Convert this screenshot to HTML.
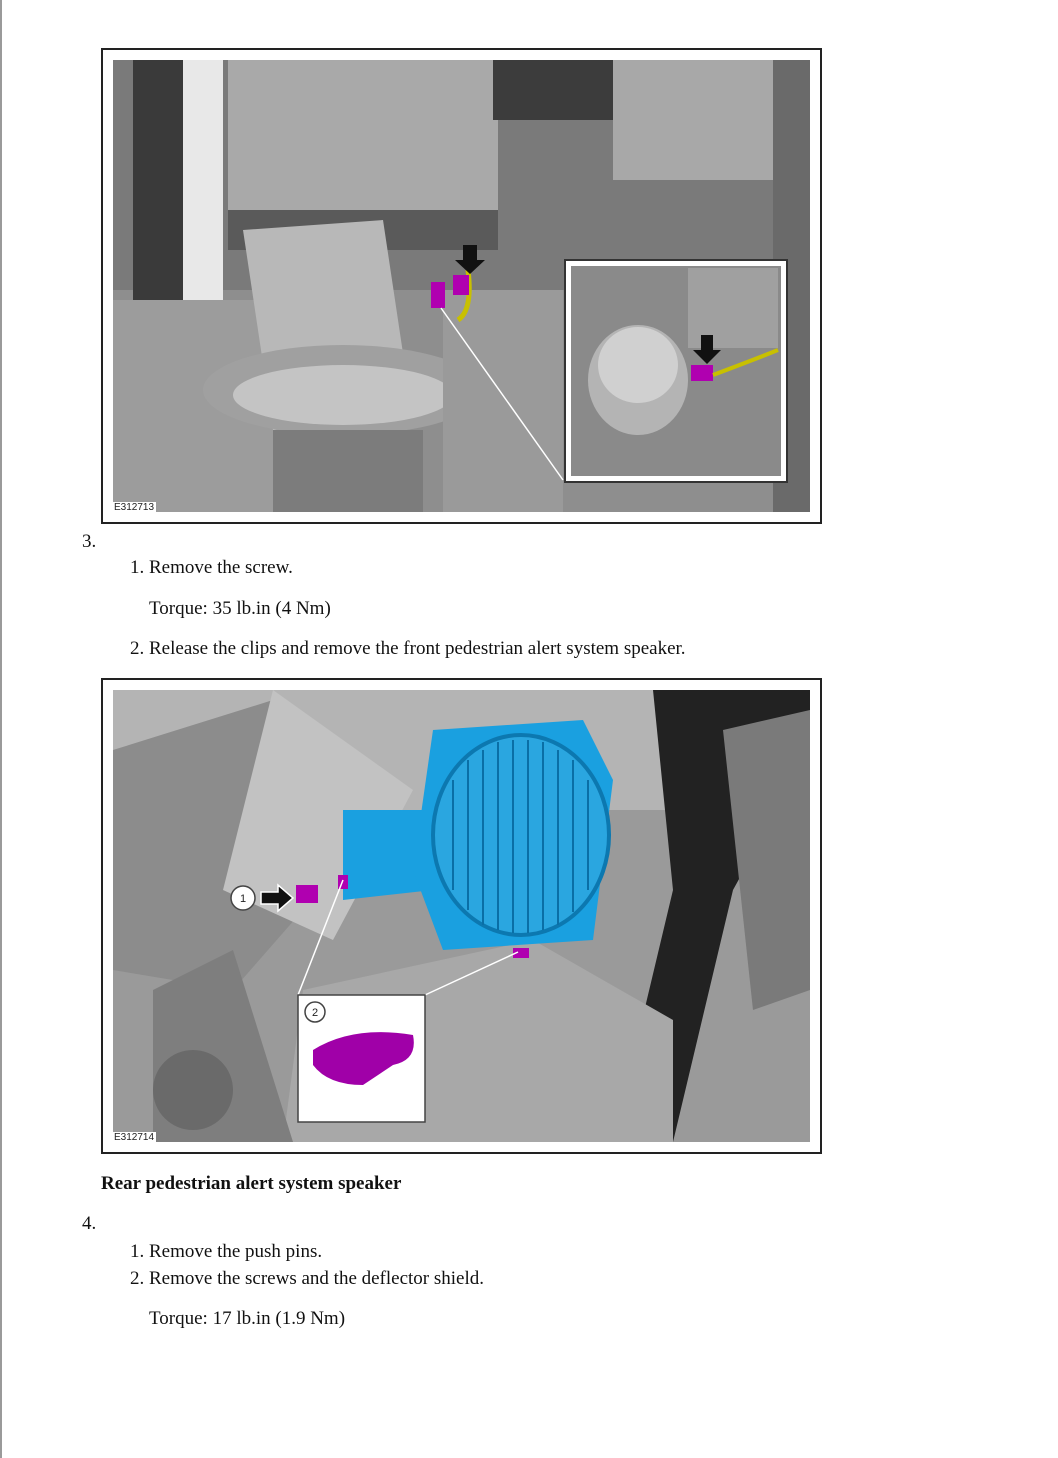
<!DOCTYPE html>
<html><head><meta charset="utf-8"><style>
html,body{margin:0;padding:0;background:#fff;}
body{width:1058px;height:1458px;position:relative;overflow:hidden;font-family:"Liberation Serif",serif;font-size:19px;color:#111;}
.edge{position:absolute;left:0;top:0;width:2px;height:1458px;background:#9a9a9a;}
.t{position:absolute;white-space:nowrap;line-height:20px;}
.fig{position:absolute;left:101px;width:717px;border:2px solid #222;background:#fff;}
.fig svg{position:absolute;left:10px;top:10px;}
.lbl{position:absolute;font-family:"Liberation Sans",sans-serif;font-size:10px;color:#222;background:#fff;padding:0 2px;}
</style></head><body>
<div class="edge"></div>

<div class="fig" style="top:48px;height:472px;">
<svg width="697" height="452" viewBox="0 0 697 452">
<rect width="697" height="452" fill="#8e8e8e"/>
<rect x="0" y="0" width="697" height="230" fill="#7a7a7a"/>
<rect x="20" y="0" width="90" height="240" fill="#3a3a3a"/>
<rect x="70" y="0" width="40" height="240" fill="#e8e8e8"/>
<rect x="115" y="0" width="270" height="150" fill="#a9a9a9"/>
<rect x="115" y="150" width="270" height="40" fill="#5a5a5a"/>
<rect x="0" y="240" width="160" height="212" fill="#9c9c9c"/>
<rect x="380" y="0" width="120" height="60" fill="#3c3c3c"/>
<rect x="500" y="0" width="197" height="120" fill="#a8a8a8"/>
<rect x="660" y="0" width="37" height="452" fill="#6a6a6a"/>
<path d="M130 170 L270 160 L300 360 L160 370 Z" fill="#b8b8b8"/>
<ellipse cx="230" cy="330" rx="140" ry="45" fill="#a0a0a0"/>
<ellipse cx="230" cy="335" rx="110" ry="30" fill="#c4c4c4"/>
<rect x="160" y="370" width="150" height="82" fill="#7c7c7c"/>
<rect x="330" y="230" width="120" height="222" fill="#9a9a9a"/>
<path d="M355 210 Q360 250 345 260" stroke="#c8c000" stroke-width="5" fill="none"/>
<rect x="318" y="222" width="14" height="26" fill="#b000b0"/>
<rect x="340" y="215" width="16" height="20" fill="#b000b0"/>
<polygon points="350,185 364,185 364,200 372,200 357,214 342,200 350,200" fill="#111"/>
<line x1="328" y1="248" x2="450" y2="420" stroke="#fff" stroke-width="1.5"/>
<rect x="452" y="200" width="222" height="222" fill="#fff" stroke="#333" stroke-width="2"/>
<rect x="458" y="206" width="210" height="210" fill="#8a8a8a"/>
<ellipse cx="525" cy="320" rx="50" ry="55" fill="#b4b4b4"/>
<ellipse cx="525" cy="305" rx="40" ry="38" fill="#d0d0d0"/>
<rect x="575" y="208" width="90" height="80" fill="#a0a0a0"/>
<rect x="578" y="305" width="22" height="16" fill="#b000b0"/>
<path d="M600 315 Q640 300 665 290" stroke="#c8c000" stroke-width="4" fill="none"/>
<polygon points="588,275 600,275 600,290 608,290 594,304 580,290 588,290" fill="#111"/>
</svg>
<div class="lbl" style="left:9px;top:452px;">E312713</div>
</div>

<div class="t" style="left:82px;top:532px;">3.</div>
<div class="t" style="left:130px;top:558px;">1. Remove the screw.</div>
<div class="t" style="left:149px;top:599px;">Torque: 35 lb.in (4 Nm)</div>
<div class="t" style="left:130px;top:639px;">2. Release the clips and remove the front pedestrian alert system speaker.</div>

<div class="fig" style="top:678px;height:472px;">
<svg width="697" height="452" viewBox="0 0 697 452">
<rect width="697" height="452" fill="#9a9a9a"/>
<rect x="0" y="0" width="697" height="120" fill="#b4b4b4"/>
<path d="M0 60 L160 10 L260 140 L120 300 L0 280 Z" fill="#8c8c8c"/>
<path d="M160 0 L300 100 L220 250 L110 200 Z" fill="#c2c2c2"/>
<path d="M540 0 L697 0 L697 60 L620 200 L560 452 L500 452 L560 200 Z" fill="#222"/>
<path d="M610 40 L697 20 L697 300 L640 320 Z" fill="#7a7a7a"/>
<path d="M190 300 L420 250 L560 330 L560 452 L170 452 Z" fill="#a8a8a8"/>
<path d="M40 300 L120 260 L180 452 L40 452 Z" fill="#7e7e7e"/>
<circle cx="80" cy="400" r="40" fill="#6a6a6a"/>
<path d="M230 120 L320 120 L320 200 L230 210 Z" fill="#1aa0e0"/>
<path d="M320 40 L470 30 L500 90 L480 250 L330 260 L300 180 Z" fill="#1aa0e0"/>
<ellipse cx="408" cy="145" rx="88" ry="100" fill="#2aa6e0" stroke="#0c78b0" stroke-width="4"/>
<g stroke="#0a6fa6" stroke-width="2">
<line x1="340" y1="90" x2="340" y2="200"/><line x1="355" y1="70" x2="355" y2="220"/><line x1="370" y1="60" x2="370" y2="235"/><line x1="385" y1="52" x2="385" y2="240"/><line x1="400" y1="50" x2="400" y2="243"/><line x1="415" y1="50" x2="415" y2="243"/><line x1="430" y1="52" x2="430" y2="240"/><line x1="445" y1="60" x2="445" y2="235"/><line x1="460" y1="70" x2="460" y2="222"/><line x1="475" y1="90" x2="475" y2="200"/>
</g>
<rect x="183" y="195" width="22" height="18" fill="#b000b0"/>
<rect x="225" y="185" width="10" height="14" fill="#b000b0"/>
<rect x="400" y="258" width="16" height="10" fill="#b000b0"/>
<polygon points="148,202 165,202 165,195 180,208 165,221 165,214 148,214" fill="#111" stroke="#fff" stroke-width="1.5"/>
<circle cx="130" cy="208" r="12" fill="#fff" stroke="#444" stroke-width="1.5"/>
<text x="130" y="212" font-family="Liberation Sans,sans-serif" font-size="11" text-anchor="middle" fill="#222">1</text>
<line x1="185" y1="305" x2="230" y2="190" stroke="#fff" stroke-width="1.5"/>
<line x1="312" y1="305" x2="405" y2="262" stroke="#fff" stroke-width="1.5"/>
<rect x="185" y="305" width="127" height="127" fill="#fff" stroke="#444" stroke-width="1.5"/>
<circle cx="202" cy="322" r="10" fill="#fff" stroke="#444" stroke-width="1.5"/>
<text x="202" y="326" font-family="Liberation Sans,sans-serif" font-size="11" text-anchor="middle" fill="#222">2</text>
<path d="M200 360 Q240 335 300 345 Q305 370 280 375 L250 395 Q215 395 200 375 Z" fill="#a000a8"/>
</svg>
<div class="lbl" style="left:9px;top:452px;">E312714</div>
</div>

<div class="t" style="left:101px;top:1174px;font-weight:bold;">Rear pedestrian alert system speaker</div>
<div class="t" style="left:82px;top:1214px;">4.</div>
<div class="t" style="left:130px;top:1242px;">1. Remove the push pins.</div>
<div class="t" style="left:130px;top:1269px;">2. Remove the screws and the deflector shield.</div>
<div class="t" style="left:149px;top:1309px;">Torque: 17 lb.in (1.9 Nm)</div>
</body></html>
